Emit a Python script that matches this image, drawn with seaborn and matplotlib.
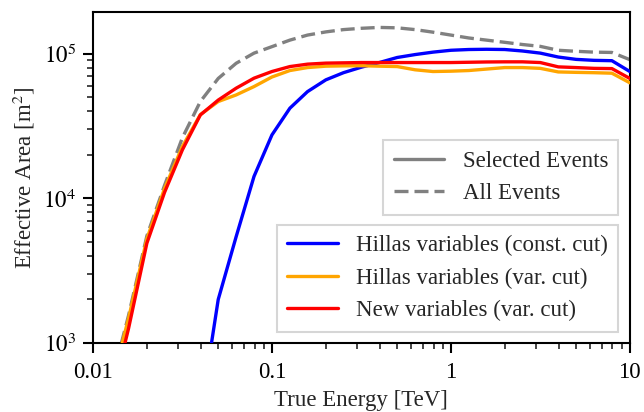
import matplotlib
matplotlib.use("Agg")
import matplotlib.pyplot as plt
from matplotlib.lines import Line2D
from matplotlib.ticker import FixedLocator, LogLocator, NullFormatter
import seaborn as sns
import pandas as pd

# True energy bin centres [TeV]
energy = [0.0126, 0.0158, 0.0200, 0.0251, 0.0316, 0.0398, 0.0501, 0.0631,
          0.0794, 0.100, 0.126, 0.158, 0.200, 0.251, 0.316, 0.398, 0.501,
          0.631, 0.794, 1.00, 1.26, 1.58, 2.00, 2.51, 3.16, 3.98, 5.01,
          6.31, 7.94, 10.0]

# Effective areas [m^2] after event selection
area_hillas_const = [316, 2000, 5440, 14200, 27500, 42100, 54800, 66100,
                     74100, 80900, 87100, 94400, 98900, 102800, 105900,
                     107200, 107600, 107200, 104700, 101200, 95100, 91600,
                     90200, 89700, 75500]
energy_hillas_const = energy[5:]

area_hillas_var = [500, 1480, 5250, 11700, 22900, 38000, 46800, 52000, 59400,
                   69200, 76700, 80400, 82200, 82600, 82800, 82200, 81700,
                   77600, 75500, 75900, 76700, 78500, 80400, 80400, 79400,
                   75000, 74500, 74100, 73500, 63100]

area_new_var = [400, 1260, 4900, 11000, 21700, 37800, 47900, 57900, 67900,
                75500, 81700, 84900, 86300, 86700, 87100, 87100, 87100,
                87100, 87100, 87100, 87500, 87900, 88100, 88100, 87100,
                81300, 80400, 79400, 79100, 67600]

# Effective area without any selection
area_all = [525, 1550, 5500, 12300, 26300, 46800, 67600, 86100, 101200,
            112200, 124500, 134900, 141900, 147200, 150300, 152400, 151400,
            147200, 141300, 134900, 128800, 124500, 120200, 116100, 112700,
            105900, 104200, 102800, 102300, 91200]

labels = ["Hillas variables (const. cut)", "Hillas variables (var. cut)",
          "New variables (var. cut)"]
colors = ["#0000ff", "#ffa500", "#ff0000"]

selected = pd.concat([
    pd.DataFrame({"energy": energy_hillas_const, "area": area_hillas_const,
                  "method": labels[0]}),
    pd.DataFrame({"energy": energy, "area": area_hillas_var,
                  "method": labels[1]}),
    pd.DataFrame({"energy": energy, "area": area_new_var,
                  "method": labels[2]}),
], ignore_index=True)
all_events = pd.DataFrame({"energy": energy, "area": area_all})

sns.set_style("ticks")
plt.rcParams["font.family"] = ["Liberation Serif", "DejaVu Serif"]
plt.rcParams["mathtext.fontset"] = "stix"
FS = 16.5
plt.rcParams["font.size"] = FS

LW = 2.4
DASH = (0, (4.2, 1.8))

fig = plt.figure(figsize=(6.44, 4.12), dpi=100)
ax = fig.add_axes([0.1444, 0.1675, 0.8336, 0.8035])

sns.lineplot(data=all_events, x="energy", y="area", ax=ax, color="#808080",
             linewidth=LW, linestyle=DASH, legend=False, zorder=2)
sns.lineplot(data=selected, x="energy", y="area", hue="method",
             hue_order=labels, palette=colors, ax=ax, linewidth=LW,
             legend=False, zorder=3)

ax.set_xscale("log")
ax.set_yscale("log")
ax.set_xlim(0.01, 10)
ax.set_ylim(1e3, 1.95e5)

ax.xaxis.set_major_locator(FixedLocator([0.01, 0.1, 1, 10]))
ax.set_xticklabels(["0.01", "0.1", "1", "10"])
ax.xaxis.set_minor_locator(LogLocator(base=10, subs=range(2, 10), numticks=20))
ax.xaxis.set_minor_formatter(NullFormatter())
ax.yaxis.set_major_locator(FixedLocator([1e3, 1e4, 1e5]))
ax.set_yticklabels([r"$10^3$", r"$10^4$", r"$10^5$"])
ax.yaxis.set_minor_locator(LogLocator(base=10, subs=range(2, 10), numticks=20))
ax.yaxis.set_minor_formatter(NullFormatter())

ax.tick_params(which="major", direction="out", length=7, width=1.5,
               labelsize=FS, colors="black", pad=5)
ax.tick_params(axis="x", which="major", pad=7)
ax.tick_params(which="minor", direction="out", length=4, width=1.2)
for side in ["left", "bottom", "top", "right"]:
    ax.spines[side].set_visible(True)
    ax.spines[side].set_linewidth(1.5)
    ax.spines[side].set_color("black")

ax.set_xlabel("True Energy [TeV]", fontsize=FS, labelpad=5)
ax.set_ylabel("Effective Area [m$^2$]", fontsize=FS, labelpad=5)

legend_kw = dict(fancybox=False, edgecolor="#cccccc", framealpha=0.8,
                 fontsize=FS, handlelength=2.2, handletextpad=0.8,
                 labelspacing=0.5, borderpad=0.45)

style_handles = [
    Line2D([], [], color="#808080", linewidth=LW),
    Line2D([], [], color="#808080", linewidth=LW, linestyle=DASH),
]
leg1 = ax.legend(style_handles, ["Selected Events", "All Events"],
                 loc="center right", **legend_kw)
leg1.get_frame().set_linewidth(1.5)
ax.add_artist(leg1)

method_handles = [Line2D([], [], color=c, linewidth=LW) for c in colors]
leg2 = ax.legend(method_handles, labels, loc="lower right", **legend_kw)
leg2.get_frame().set_linewidth(1.5)

fig.savefig("out.png", dpi=100)
